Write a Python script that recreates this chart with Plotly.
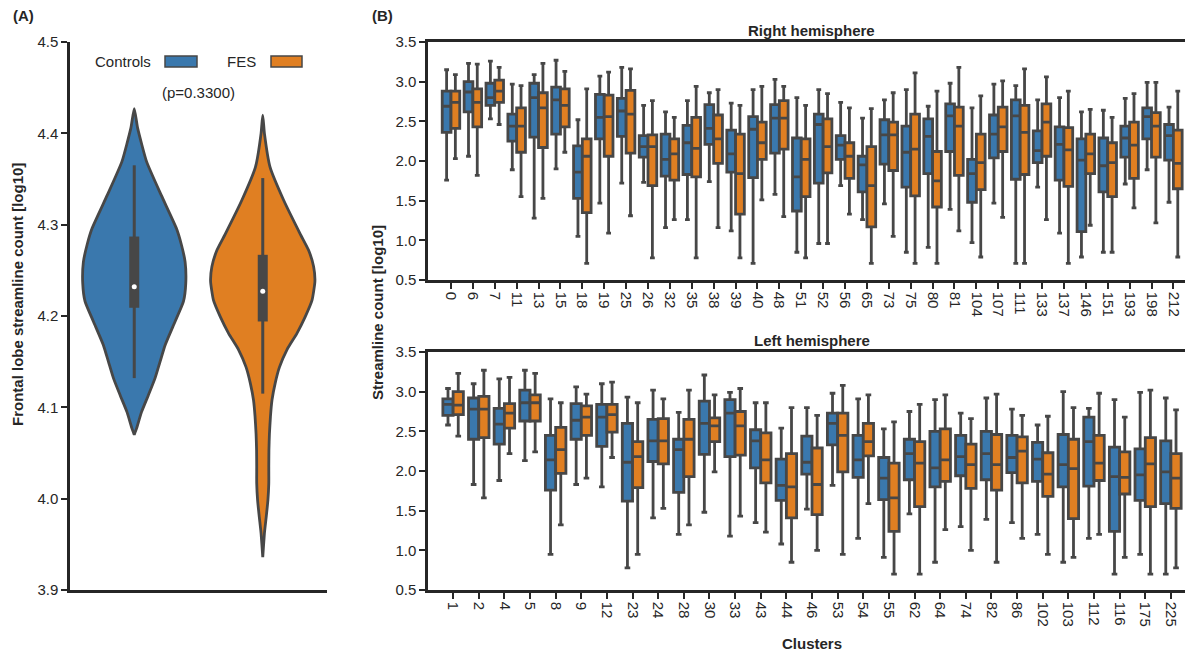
import plotly.graph_objects as go

W, H = 1193, 653
BLUE = "#3a78ad"
ORANGE = "#e07f22"
LINE = "#474747"
AX = "#262626"
FONT = "Liberation Sans, Arial, sans-serif"

# ---------------- Panel A data (violin profiles) ----------------
groups = ["Controls", "FES"]
ctrl_levels = [4.427, 4.406, 4.369, 4.332, 4.296, 4.278, 4.259, 4.236, 4.216, 4.194,
               4.168, 4.150, 4.132, 4.113, 4.095, 4.077, 4.070]
ctrl_halfw = [0.0, 0.026, 0.096, 0.211, 0.328, 0.367, 0.396, 0.401, 0.383, 0.318,
              0.240, 0.201, 0.162, 0.109, 0.057, 0.018, 0.0]
fes_levels = [4.420, 4.400, 4.363, 4.327, 4.290, 4.272, 4.254, 4.238, 4.217, 4.199,
              4.181, 4.163, 4.144, 4.126, 4.108, 4.090, 4.071, 4.053, 4.035, 4.017,
              3.998, 3.980, 3.962, 3.936]
fes_halfw = [0.0, 0.013, 0.057, 0.162, 0.291, 0.357, 0.396, 0.406, 0.383, 0.330,
             0.266, 0.188, 0.130, 0.096, 0.072, 0.060, 0.052, 0.048, 0.047, 0.047,
             0.040, 0.027, 0.013, 0.0]
# inner box stats: [lower whisker, q1, median, q3, upper whisker]
ctrl_inner = [4.132, 4.209, 4.232, 4.287, 4.365]
fes_inner = [4.115, 4.194, 4.227, 4.267, 4.351]
p_text = "(p=0.3300)"

# ---------------- Panel B data ----------------
right_clusters = ['0', '6', '7', '11', '13', '15', '18', '19', '25', '26', '32', '35', '38', '39',
                  '40', '48', '51', '52', '56', '65', '73', '75', '80', '81', '104', '107', '111',
                  '133', '137', '146', '151', '193', '198', '212']
# Controls, right hemisphere
rc_hi = [3.15, 3.23, 3.26, 2.97, 3.09, 3.27, 2.52, 3.07, 3.18, 2.70, 2.62, 2.76, 2.86, 2.73,
         2.90, 3.03, 2.80, 2.90, 2.74, 2.54, 2.77, 2.90, 2.69, 2.98, 2.67, 2.97, 2.95,
         2.77, 2.80, 2.62, 2.64, 2.79, 2.99, 2.68]
rc_q3 = [2.88, 3.00, 2.98, 2.59, 2.98, 2.93, 2.19, 2.84, 2.79, 2.32, 2.34, 2.45, 2.71, 2.39,
         2.56, 2.71, 2.29, 2.59, 2.32, 2.06, 2.52, 2.44, 2.53, 2.72, 2.02, 2.58, 2.77,
         2.38, 2.43, 2.28, 2.29, 2.44, 2.67, 2.46]
rc_med = [2.69, 2.87, 2.80, 2.44, 2.80, 2.77, 1.86, 2.55, 2.63, 2.18, 2.02, 2.23, 2.41, 2.09,
          2.40, 2.54, 1.80, 2.46, 2.20, 1.95, 2.33, 2.11, 2.31, 2.57, 1.84, 2.34, 2.57,
          2.13, 2.21, 2.01, 1.94, 2.29, 2.56, 2.32]
rc_q1 = [2.36, 2.62, 2.70, 2.25, 2.30, 2.34, 1.53, 2.28, 2.31, 2.05, 1.81, 1.83, 2.21, 1.86,
         1.79, 2.10, 1.37, 1.72, 2.02, 1.61, 1.96, 1.67, 1.84, 2.12, 1.48, 2.04, 1.77,
         1.98, 1.76, 1.11, 1.61, 2.05, 2.28, 2.01]
rc_lo = [1.76, 2.06, 2.53, 1.89, 1.28, 1.90, 1.05, 1.47, 1.72, 1.73, 1.16, 1.26, 1.74, 1.12,
         0.71, 1.58, 0.85, 0.96, 1.69, 1.26, 1.46, 0.85, 0.91, 1.39, 0.97, 1.47, 0.71,
         1.67, 1.09, 0.79, 0.85, 1.71, 1.89, 1.48]
# FES, right hemisphere
rf_hi = [3.09, 3.22, 3.18, 2.95, 3.23, 3.13, 2.91, 3.12, 3.16, 2.76, 2.55, 2.94, 2.90, 2.70,
         2.94, 2.94, 2.70, 2.85, 2.67, 2.66, 2.86, 3.11, 2.88, 3.18, 2.82, 3.01, 3.16,
         3.06, 2.88, 2.65, 2.55, 2.85, 2.99, 2.88]
rf_q3 = [2.88, 2.91, 3.02, 2.67, 2.86, 2.91, 2.28, 2.83, 2.89, 2.33, 2.28, 2.55, 2.58, 2.34,
         2.49, 2.76, 2.28, 2.53, 2.23, 2.18, 2.49, 2.59, 2.12, 2.68, 2.34, 2.68, 2.70,
         2.72, 2.42, 2.34, 2.23, 2.49, 2.61, 2.39]
rf_med = [2.74, 2.74, 2.88, 2.44, 2.67, 2.70, 2.06, 2.56, 2.59, 2.18, 2.09, 2.16, 2.28, 1.84,
          2.23, 2.54, 2.02, 2.18, 2.06, 1.69, 2.33, 2.15, 1.75, 2.44, 1.98, 2.43, 2.36,
          2.49, 2.14, 2.09, 1.98, 2.20, 2.44, 1.97]
rf_q1 = [2.41, 2.43, 2.74, 2.11, 2.17, 2.43, 1.35, 2.06, 2.10, 1.69, 1.76, 1.80, 1.97, 1.33,
         2.02, 2.15, 1.55, 1.85, 1.78, 1.17, 1.88, 1.56, 1.42, 1.82, 1.64, 2.12, 1.83,
         2.06, 1.68, 1.84, 1.55, 1.78, 2.05, 1.65]
rf_lo = [2.03, 1.82, 2.46, 1.55, 1.53, 2.11, 0.71, 1.09, 1.31, 0.78, 1.26, 0.78, 1.16, 0.78,
         1.51, 1.30, 0.78, 0.96, 1.33, 0.71, 1.05, 0.71, 0.71, 1.12, 0.79, 1.29, 0.71,
         1.26, 0.71, 1.19, 0.85, 1.41, 1.22, 0.79]

left_clusters = ['1', '2', '4', '5', '8', '9', '12', '23', '24', '28', '30', '33', '43', '44',
                 '46', '53', '54', '55', '62', '64', '74', '82', '86', '102', '103', '112',
                 '116', '175', '225']
# Controls, left hemisphere
lc_hi = [3.04, 3.10, 3.16, 3.27, 2.91, 3.06, 3.10, 2.93, 3.02, 2.74, 3.21, 2.99, 2.86, 2.54,
         2.80, 2.98, 2.91, 2.53, 2.75, 2.90, 2.73, 2.92, 2.78, 2.58, 3.00, 2.79, 2.90,
         2.99, 2.92]
lc_q3 = [2.91, 2.92, 2.79, 3.02, 2.45, 2.85, 2.84, 2.60, 2.65, 2.40, 2.88, 2.90, 2.52, 2.15,
         2.44, 2.73, 2.45, 2.17, 2.40, 2.50, 2.45, 2.50, 2.45, 2.36, 2.46, 2.68, 2.30,
         2.28, 2.38]
lc_med = [2.84, 2.78, 2.59, 2.86, 2.14, 2.64, 2.68, 2.11, 2.38, 2.27, 2.60, 2.73, 2.38, 1.82,
          2.11, 2.60, 2.14, 1.91, 2.22, 2.04, 2.18, 2.22, 2.17, 2.15, 2.08, 2.37, 1.93,
          1.95, 1.99]
lc_q1 = [2.70, 2.40, 2.34, 2.63, 1.76, 2.40, 2.31, 1.62, 2.12, 1.73, 2.21, 2.18, 2.04, 1.63,
         1.96, 2.33, 1.92, 1.64, 1.89, 1.80, 1.94, 1.89, 1.98, 1.87, 1.80, 1.81, 1.24,
         1.63, 1.59]
lc_lo = [2.58, 1.83, 1.88, 2.13, 0.95, 1.83, 1.80, 0.78, 1.41, 1.20, 1.48, 1.18, 1.35, 1.08,
         1.52, 1.82, 1.15, 0.91, 1.46, 0.85, 1.30, 1.39, 1.35, 1.20, 0.85, 1.15, 0.70,
         0.95, 0.70]
# FES, left hemisphere
lf_hi = [3.23, 3.27, 3.18, 3.23, 2.86, 2.97, 3.12, 2.86, 2.91, 3.02, 2.96, 3.04, 2.86, 2.80,
         2.70, 3.08, 2.96, 2.62, 2.84, 2.96, 2.66, 2.97, 2.70, 2.69, 2.80, 2.98, 2.68,
         3.02, 2.77]
lf_q3 = [3.00, 2.94, 2.85, 2.96, 2.55, 2.82, 2.84, 2.37, 2.66, 2.65, 2.67, 2.75, 2.48, 2.22,
         2.29, 2.73, 2.60, 2.10, 2.37, 2.53, 2.34, 2.46, 2.43, 2.23, 2.40, 2.45, 2.24,
         2.42, 2.22]
lf_med = [2.83, 2.78, 2.73, 2.86, 2.27, 2.68, 2.71, 2.18, 2.38, 2.40, 2.57, 2.57, 2.14, 1.80,
          1.83, 2.45, 2.37, 1.66, 2.10, 2.14, 2.08, 2.08, 2.25, 1.96, 2.03, 2.10, 1.92,
          2.09, 1.91]
lf_q1 = [2.71, 2.42, 2.54, 2.63, 1.97, 2.45, 2.49, 1.79, 2.09, 1.93, 2.37, 2.20, 1.85, 1.41,
         1.45, 1.99, 2.19, 1.24, 1.55, 1.87, 1.78, 1.76, 1.85, 1.68, 1.40, 1.88, 1.71,
         1.55, 1.53]
lf_lo = [2.44, 1.66, 2.22, 2.24, 1.32, 1.91, 2.17, 0.95, 1.53, 1.32, 1.99, 1.43, 1.23, 0.85,
         1.00, 0.95, 1.59, 0.70, 0.70, 1.26, 1.00, 0.85, 1.15, 0.95, 0.91, 1.20, 0.91,
         0.70, 0.78]

y_ticks_b = [0.5, 1.0, 1.5, 2.0, 2.5, 3.0, 3.5]
y_ticks_a = [3.9, 4.0, 4.1, 4.2, 4.3, 4.4, 4.5]


def px(xp):
    return xp / W


def py(yp):
    return 1 - yp / H


fig = go.Figure()

# ---------------- Panel A: violins ----------------
for i, (lev, hw, inner, col) in enumerate([(ctrl_levels, ctrl_halfw, ctrl_inner, BLUE),
                                           (fes_levels, fes_halfw, fes_inner, ORANGE)]):
    xs = [i - h for h in hw] + [i + h for h in reversed(hw)]
    ys = list(lev) + list(reversed(lev))
    fig.add_trace(go.Scatter(x=xs, y=ys, mode="lines", fill="toself", fillcolor=col,
                             line=dict(color=LINE, width=2.8, shape="spline", smoothing=0.5),
                             xaxis="x", yaxis="y", showlegend=False, hoverinfo="skip"))
    fig.add_trace(go.Scatter(x=[i, i], y=[inner[0], inner[4]], mode="lines",
                             line=dict(color=LINE, width=3), xaxis="x", yaxis="y",
                             showlegend=False, hoverinfo="skip"))
    fig.add_trace(go.Scatter(x=[i, i], y=[inner[1], inner[3]], mode="lines",
                             line=dict(color=LINE, width=10), xaxis="x", yaxis="y",
                             showlegend=False, hoverinfo="skip"))
    fig.add_trace(go.Scatter(x=[i], y=[inner[2]], mode="markers",
                             marker=dict(color="white", size=5), xaxis="x", yaxis="y",
                             showlegend=False, hoverinfo="skip"))

# ---------------- Panel B: boxes ----------------
def add_box(cats, lo, q1, med, q3, hi, name, col, xa, ya, og):
    fig.add_trace(go.Box(x=cats, lowerfence=lo, q1=q1, median=med, q3=q3, upperfence=hi,
                         name=name, fillcolor=col, line=dict(color=LINE, width=2.8),
                         whiskerwidth=0.55, boxpoints=False, offsetgroup=og,
                         xaxis=xa, yaxis=ya, showlegend=False, hoverinfo="skip"))


add_box(right_clusters, rc_lo, rc_q1, rc_med, rc_q3, rc_hi, "Controls", BLUE, "x2", "y2", "c")
add_box(right_clusters, rf_lo, rf_q1, rf_med, rf_q3, rf_hi, "FES", ORANGE, "x2", "y2", "f")
add_box(left_clusters, lc_lo, lc_q1, lc_med, lc_q3, lc_hi, "Controls", BLUE, "x3", "y3", "c")
add_box(left_clusters, lf_lo, lf_q1, lf_med, lf_q3, lf_hi, "FES", ORANGE, "x3", "y3", "f")

axis_common = dict(showline=True, linewidth=2.5, linecolor=AX, ticks="outside", ticklen=6,
                   tickwidth=2, tickcolor=AX, showgrid=False, zeroline=False, automargin=False,
                   tickfont=dict(family=FONT, size=15, color=AX))

xa_dom = [px(70), px(327)]
ya_dom = [py(590), py(42)]
xb_dom = [px(428), px(1185)]
yb_top = [py(280), py(42)]
yb_bot = [py(590), py(352)]

fig.update_layout(
    width=W, height=H, margin=dict(l=0, r=0, t=0, b=0, pad=0, autoexpand=False),
    autosize=False,
    paper_bgcolor="white", plot_bgcolor="white",
    boxmode="group", boxgap=0.2, boxgroupgap=0.0,
    font=dict(family=FONT, color=AX),
    xaxis=dict(domain=xa_dom, range=[-0.5, 1.5], anchor="y", showline=True, linewidth=2.5,
               linecolor=AX, ticks="", showticklabels=False, showgrid=False, zeroline=False,
               automargin=False),
    yaxis=dict(domain=ya_dom, range=[3.9, 4.5], anchor="x", tickvals=y_ticks_a,
               tickformat=".1f", **axis_common),
    xaxis2=dict(domain=xb_dom, anchor="y2", type="category", range=[-1.05, 33.53],
                tickangle=90, mirror=True, **axis_common),
    yaxis2=dict(domain=yb_top, anchor="x2", range=[0.5, 3.5], tickvals=y_ticks_b,
                tickformat=".1f", **axis_common),
    xaxis3=dict(domain=xb_dom, anchor="y3", type="category", range=[-0.98, 28.55],
                tickangle=90, mirror=True, **axis_common),
    yaxis3=dict(domain=yb_bot, anchor="x3", range=[0.5, 3.5], tickvals=y_ticks_b,
                tickformat=".1f", **axis_common),
)

ann = []


def text(xp, yp, s, size=15, bold=False, xanchor="center", yanchor="middle", angle=0):
    ann.append(dict(x=px(xp), y=py(yp), xref="paper", yref="paper", text=f"<b>{s}</b>" if bold else s,
                    showarrow=False, xanchor=xanchor, yanchor=yanchor, textangle=angle,
                    font=dict(family=FONT, size=size, color=AX)))


text(11, 15, "(A)", bold=True, xanchor="left")
text(370, 15, "(B)", bold=True, xanchor="left")
text(812, 30, "Right hemisphere", bold=True)
text(812, 340, "Left hemisphere", bold=True)
text(812, 643, "Clusters", bold=True)
text(18, 295, "Frontal lobe streamline count [log10]", bold=True, angle=-90)
text(377, 313, "Streamline count [log10]", bold=True, angle=-90)
text(153, 61, groups[0], xanchor="right")
text(258, 61, groups[1], xanchor="right")
text(198, 93, p_text)
fig.update_layout(annotations=ann)

shapes = []
for (x0, x1, col) in [(165, 197, BLUE), (271, 302, ORANGE)]:
    shapes.append(dict(type="rect", xref="paper", yref="paper", x0=px(x0), x1=px(x1),
                       y0=py(67), y1=py(56), fillcolor=col, line=dict(color=LINE, width=1.5)))
fig.update_layout(shapes=shapes)

fig.write_html("out.html", config={"responsive": False})
